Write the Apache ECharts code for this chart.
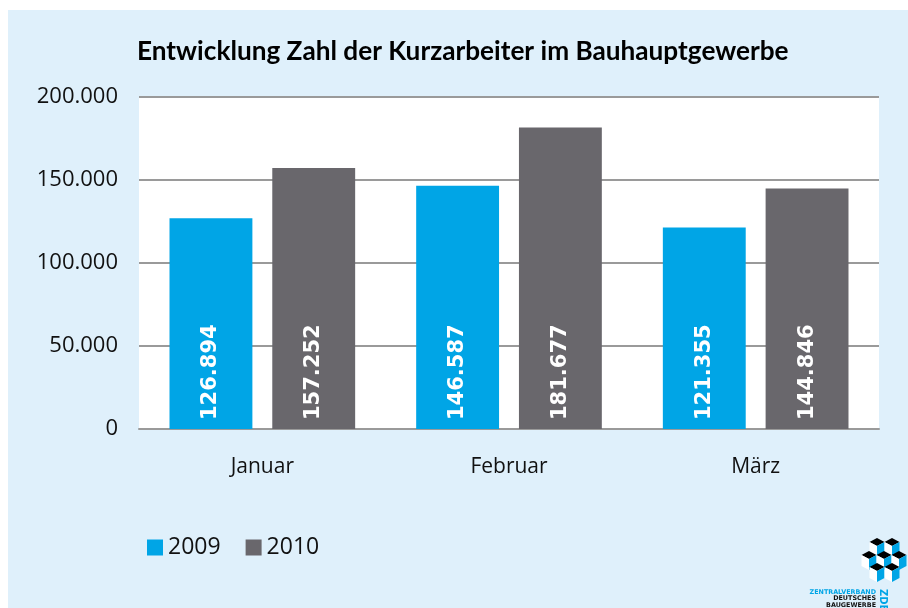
<!DOCTYPE html>
<html>
<head>
<meta charset="utf-8">
<script src="https://cdn.jsdelivr.net/npm/echarts@6/dist/echarts.min.js"></script>
<style>
  html, body { margin: 0; padding: 0; background: #ffffff; }
  #miGrafico { position: absolute; left: 8px; top: 10px; width: 900px; height: 598px; background: #dff0fb; }
</style>
</head>
<body>
<div id="miGrafico"></div>
<script>
// Datos del gráfico
var categories = ['Januar', 'Februar', 'März'];
var seriesNames = ['2009', '2010'];
var values2009 = [126894, 146587, 121355];
var values2010 = [157252, 181677, 144846];
var yTicks = [0, 50000, 100000, 150000, 200000];

function puntos(v) {
  return String(v).replace(/\B(?=(\d{3})+(?!\d))/g, '.');
}

// Logo ZDB (dekorativ): Würfel, t = Oberkante
function wuerfel(cx, t) {
  var h = 7.5;
  return [
    { type: 'polygon', shape: { points: [[cx, t], [cx + h, t + 4], [cx, t + 8], [cx - h, t + 4]] }, style: { fill: '#000000' } },
    { type: 'polygon', shape: { points: [[cx - h, t + 4], [cx, t + 8], [cx, t + 19], [cx - h, t + 15]] }, style: { fill: '#ffffff' } },
    { type: 'polygon', shape: { points: [[cx + h, t + 4], [cx, t + 8], [cx, t + 19], [cx + h, t + 15]] }, style: { fill: '#00a5e6' } }
  ];
}
var logo = [];
[[869, 528], [884, 528], [861, 541], [876, 541], [891, 541], [869, 553], [884, 553]].forEach(function (p) {
  logo = logo.concat(wuerfel(p[0], p[1]));
});
logo.push(
  { type: 'text', right: 32, top: 579, style: { text: 'ZENTRALVERBAND', fill: '#00a5e6', font: 'bold 6.4px "DejaVu Sans"' } },
  { type: 'text', right: 32, top: 585, style: { text: 'DEUTSCHES', fill: '#111111', font: 'bold 6.4px "DejaVu Sans"' } },
  { type: 'text', right: 32, top: 592, style: { text: 'BAUGEWERBE', fill: '#111111', font: 'bold 6.4px "DejaVu Sans"' } },
  { type: 'text', x: 880, y: 579, rotation: -Math.PI / 2,
    style: { text: 'ZDB', fill: '#00a5e6', font: 'bold 10px "DejaVu Sans"', align: 'left', verticalAlign: 'top' } }
);

var chartDom = document.getElementById('miGrafico');
var myChart = echarts.init(chartDom);

var etiqueta = {
  show: true,
  position: 'insideBottom',
  rotate: 90,
  align: 'left',
  verticalAlign: 'middle',
  distance: 9,
  color: '#ffffff',
  fontFamily: 'DejaVu Sans',
  fontWeight: 'bold',
  fontSize: 21,
  formatter: function (p) { return puntos(p.value); }
};

var option = {
  backgroundColor: '#dff0fb',
  title: {
    text: 'Entwicklung Zahl der Kurzarbeiter im Bauhauptgewerbe',
    left: 124,
    top: 24,
    textStyle: { fontFamily: 'Lato', fontWeight: 'bold', fontSize: 26.2, color: '#000000' }
  },
  legend: {
    data: seriesNames,
    left: 134,
    top: 521,
    icon: 'rect',
    itemWidth: 16,
    itemHeight: 16,
    itemGap: 25,
    textStyle: { fontFamily: 'Open Sans', fontSize: 23, color: '#111111' }
  },
  grid: {
    left: 131, right: 29, top: 87, bottom: 179,
    show: true, backgroundColor: '#ffffff', borderWidth: 0
  },
  xAxis: {
    type: 'category',
    data: categories,
    axisTick: { show: false },
    axisLine: { lineStyle: { color: '#9a9a9a', width: 2 } },
    axisLabel: { margin: 28, fontFamily: 'Open Sans', fontSize: 21, color: '#111111' }
  },
  yAxis: {
    type: 'value',
    min: yTicks[0],
    max: yTicks[yTicks.length - 1],
    interval: 50000,
    axisLine: { show: false },
    axisTick: { show: false },
    splitLine: { lineStyle: { color: '#9a9a9a', width: 2 } },
    axisLabel: { margin: 21, fontFamily: 'Open Sans', fontSize: 22, color: '#111111', formatter: puntos }
  },
  series: [
    {
      name: seriesNames[0], type: 'bar', data: values2009,
      barWidth: '33.6%', barGap: '24%',
      itemStyle: { color: '#00a5e6' },
      label: etiqueta
    },
    {
      name: seriesNames[1], type: 'bar', data: values2010,
      barWidth: '33.6%',
      itemStyle: { color: '#69676c' },
      label: etiqueta
    }
  ],
  graphic: logo
};

myChart.setOption(option);

window.addEventListener('resize', function () {
  myChart.resize();
});
</script>
</body>
</html>
